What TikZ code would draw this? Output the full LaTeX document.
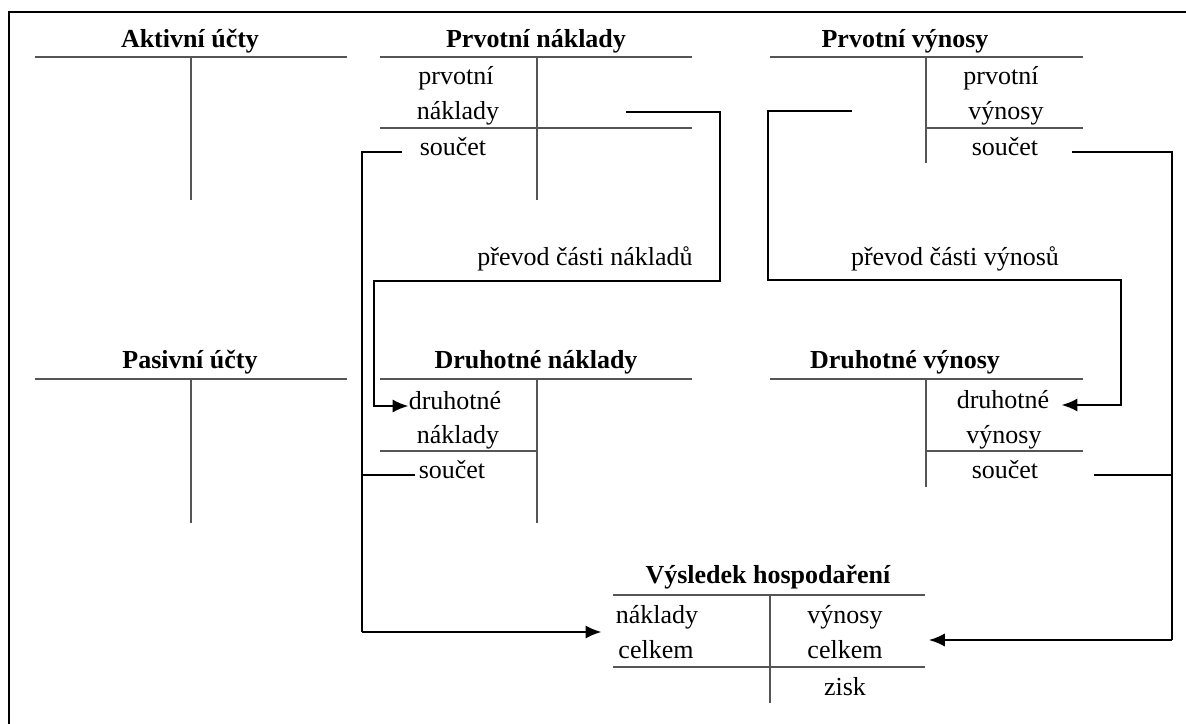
\documentclass[tikz,border=0pt]{standalone}
\usepackage{fontspec}
\setmainfont{Liberation Serif}
\usetikzlibrary{calc,positioning,arrows.meta}
\definecolor{acctline}{HTML}{555555}

\tikzset{
  acctitle/.style={font=\fontsize{19.5}{23}\selectfont\bfseries, inner sep=0pt,
    text height=1.5ex, text depth=.25ex},
  accitem/.style={font=\fontsize{19.5}{23}\selectfont, inner sep=0pt,
    text height=1.5ex, text depth=.25ex},
  tline/.style={draw=acctline, line width=1pt},
  flow/.style={draw=black, line width=1.8pt},
  flowarrow/.style={flow, -{Latex[length=12pt,width=10pt]}},
}

\begin{document}
\begin{tikzpicture}[x=0.75pt, y=-0.75pt]
  \useasboundingbox (0,0) rectangle (1186,724);
  \clip (0,0) rectangle (1186,724);
  \draw[line width=2.2pt] (9,12) rectangle (1200,740);

  % first row of accounts
  \node[acctitle] (aktT) at (190,44) {Aktivní účty};
  \node[acctitle] (pnT) at (536,44) {Prvotní náklady};
  \node[acctitle] (pvT) at (905,44) {Prvotní výnosy};
  \draw[tline] (35,57) -- (347,57) (191,57) -- (191,200);
  \draw[tline] (380,57) -- (692,57) (537,57) -- (537,200) (380,128) -- (692,128);
  \draw[tline] (770,57) -- (1083,57) (926,57) -- (926,163) (926,128) -- (1083,128);

  \node[accitem] (pnA) at (456,81) {prvotní};
  \node[accitem] (pnB) at (458,116) {náklady};
  \node[accitem] (pnS) at (453,152) {součet};
  \node[accitem] (pvA) at (1001,81) {prvotní};
  \node[accitem] (pvB) at (1006,116) {výnosy};
  \node[accitem] (pvS) at (1005,152) {součet};

  \node[accitem] (pnNote) at (585,262) {převod části nákladů};
  \node[accitem] (pvNote) at (955,262) {převod části výnosů};

  % second row of accounts
  \node[acctitle] (pasT) at (190,365) {Pasivní účty};
  \node[acctitle] (dnT) at (536,365) {Druhotné náklady};
  \node[acctitle] (dvT) at (905,365) {Druhotné výnosy};
  \draw[tline] (35,379) -- (347,379) (191,379) -- (191,523);
  \draw[tline] (380,379) -- (692,379) (537,379) -- (537,523) (380,451) -- (537,451);
  \draw[tline] (770,379) -- (1083,379) (926,379) -- (926,487) (926,451) -- (1083,451);

  \node[accitem] (dnA) at (455,406) {druhotné};
  \node[accitem] (dnB) at (458,440) {náklady};
  \node[accitem] (dnS) at (452,475) {součet};
  \node[accitem] (dvA) at (1003,405) {druhotné};
  \node[accitem] (dvB) at (1004,440) {výnosy};
  \node[accitem] (dvS) at (1005,475) {součet};

  % result account
  \node[acctitle] (vhT) at (768,580) {Výsledek hospodaření};
  \draw[tline] (613,595) -- (925,595) (770,595) -- (770,703) (613,667) -- (925,667);
  \node[accitem] (vhA) at (657,620) {náklady};
  \node[accitem] (vhB) at (656,655) {celkem};
  \node[accitem] (vhC) at (845,620) {výnosy};
  \node[accitem] (vhD) at (845,655) {celkem};
  \node[accitem] (vhE) at (845,692) {zisk};

  % transfers
  \coordinate (pnOut) at (626,112);
  \coordinate (pnBend) at (720,281);
  \coordinate (dnIn) at (374,281);
  \draw[flowarrow] (pnOut) -| (pnBend) -- (dnIn) |- (dnA.west);

  \coordinate (pvOut) at (852,111);
  \coordinate (pvBend) at (768,280);
  \coordinate (dvIn) at (1121,280);
  \draw[flowarrow] (pvOut) -| (pvBend) -- (dvIn) |- ($(dvA.east)+(12,0)$);

  % closing into the result
  \coordinate (railL) at (362,632);
  \draw[flow] ($(pnS.west)+(-18,0)$) -| (railL);
  \draw[flow] ($(dnS.west)+(-4,0)$) -- (railL |- dnS.west);
  \draw[flowarrow] (railL) -- ($(vhA.west |- railL)+(-14,0)$);

  \coordinate (railR) at (1172,640);
  \draw[flow] ($(pvS.east)+(34,0)$) -| (railR);
  \draw[flow] ($(dvS.east)+(56,0)$) -- (railR |- dvS.east);
  \draw[flowarrow] (railR) -- ($(vhD.east |- railR)+(46,0)$);
\end{tikzpicture}
\end{document}
